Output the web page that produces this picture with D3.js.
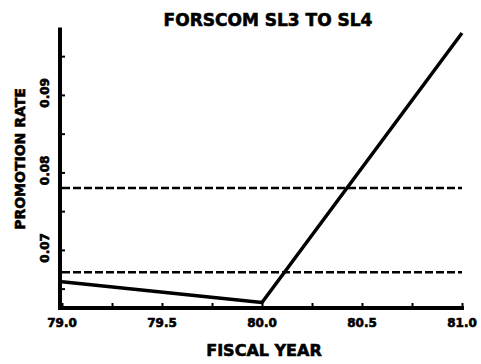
<!DOCTYPE html>
<html>
<head>
<meta charset="utf-8">
<script src="https://cdn.jsdelivr.net/npm/d3@7"></script>
<style>
  body { margin: 0; background: #fff; }
  text { font-family: "DejaVu Sans", sans-serif; font-weight: bold; fill: #000; stroke: #000; stroke-width: 0.6px; }
</style>
</head>
<body>
<script>
const width = 481;
const height = 364;

// data
const years = [79.0, 80.0, 81.0];
const rates = [0.0659, 0.0632, 0.0980];
const refLines = [0.0780, 0.0671];
const xTickValues = [79.0, 79.25, 79.5, 79.75, 80.0, 80.25, 80.5, 80.75, 81.0];
const xTickLabels = ["79.0", "79.5", "80.0", "80.5", "81.0"];
const yTickValues = [0.065, 0.07, 0.075, 0.08, 0.085, 0.09, 0.095];
const yTickLabels = ["0.07", "0.08", "0.09"];

const x = d3.scaleLinear().domain([79, 81]).range([62, 462]);
const y = d3.scaleLinear().domain([0.0625, 0.0987]).range([308, 27.5]);

const svg = d3.select("body").append("svg")
  .attr("width", width)
  .attr("height", height);

// title
svg.append("text")
  .text("FORSCOM SL3 TO SL4")
  .attr("x", 268)
  .attr("y", 26)
  .attr("text-anchor", "middle")
  .style("font-size", "17px");

// dashed reference lines
svg.selectAll(".ref")
  .data(refLines)
  .enter().append("line")
    .attr("class", "ref")
    .attr("x1", x(79))
    .attr("x2", x(81))
    .attr("y1", d => y(d))
    .attr("y2", d => y(d))
    .attr("stroke", "#000")
    .attr("stroke-width", 2.5)
    .attr("stroke-dasharray", "8,3");

// data line
const line = d3.line()
  .x((d, i) => x(years[i]))
  .y(d => y(d));

svg.append("path")
  .datum(rates)
  .attr("d", line)
  .attr("fill", "none")
  .attr("stroke", "#000")
  .attr("stroke-width", 3.5)
  .attr("stroke-linejoin", "round");

// axes
const xAxis = svg.append("g")
  .attr("transform", `translate(0,${y(0.0625)})`)
  .call(d3.axisTop(x).tickValues(xTickValues).tickSize(5).tickFormat("").tickSizeOuter(0));
const yAxis = svg.append("g")
  .attr("transform", `translate(${x(79) - 2},0)`)
  .call(d3.axisRight(y).tickValues(yTickValues).tickSize(5).tickFormat("").tickSizeOuter(0));

[xAxis, yAxis].forEach(g => {
  g.select(".domain").attr("stroke-width", 4);
  g.selectAll(".tick line").attr("stroke-width", 2);
});
yAxis.select(".domain").attr("d", `M0,${y(0.0625) + 1.5}V${y(0.0987)}`);
xAxis.select(".domain").attr("d", `M${x(79) - 4},0H${x(81) + 2}`);

// tick labels
svg.selectAll(".xlab")
  .data(xTickLabels)
  .enter().append("text")
    .attr("class", "xlab")
    .text(d => d)
    .attr("x", d => x(+d))
    .attr("y", 327)
    .attr("text-anchor", "middle")
    .style("font-size", "12px");

svg.selectAll(".ylab")
  .data(yTickLabels)
  .enter().append("text")
    .attr("class", "ylab")
    .text(d => d)
    .attr("transform", d => `translate(49,${y(+d) - 2}) rotate(-90)`)
    .attr("text-anchor", "middle")
    .style("font-size", "12px");

// axis titles
svg.append("text")
  .text("FISCAL YEAR")
  .attr("x", 264)
  .attr("y", 356)
  .attr("text-anchor", "middle")
  .style("font-size", "16px");

svg.append("text")
  .text("PROMOTION RATE")
  .attr("transform", "translate(25,159) rotate(-90)")
  .attr("text-anchor", "middle")
  .style("font-size", "14px");
</script>
</body>
</html>
